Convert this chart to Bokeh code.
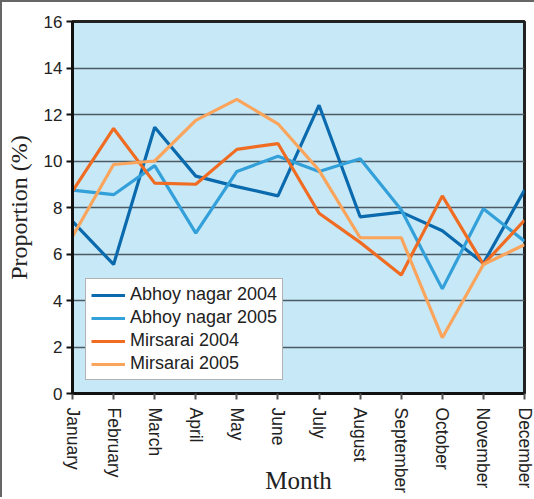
from bokeh.plotting import figure
from bokeh.models import Range1d, FixedTicker, Legend, LegendItem
from bokeh.embed import file_html
from bokeh.resources import INLINE

months = ["January", "February", "March", "April", "May", "June", "July",
          "August", "September", "October", "November", "December"]
abhoy_2004 = [7.4, 5.55, 11.45, 9.35, 8.9, 8.5, 12.4, 7.6, 7.8, 7.0, 5.6, 8.75]
abhoy_2005 = [8.75, 8.55, 9.8, 6.9, 9.55, 10.2, 9.55, 10.1, 7.9, 4.5, 7.95, 6.55]
mirsarai_2004 = [8.7, 11.4, 9.05, 9.0, 10.5, 10.75, 7.75, 6.5, 5.1, 8.5, 5.55, 7.45]
mirsarai_2005 = [6.75, 9.85, 10.0, 11.75, 12.65, 11.6, 9.6, 6.7, 6.7, 2.4, 5.55, 6.4]
y_ticks = [0, 2, 4, 6, 8, 10, 12, 14, 16]

series = [
    ("Abhoy nagar 2004", abhoy_2004, "#0a6aad"),
    ("Abhoy nagar 2005", abhoy_2005, "#33a0da"),
    ("Mirsarai 2004", mirsarai_2004, "#f06c22"),
    ("Mirsarai 2005", mirsarai_2005, "#fba45c"),
]

xs = list(range(len(months)))

p = figure(frame_width=452, frame_height=372, output_backend="svg",
           toolbar_location=None,
           x_range=Range1d(0, len(months) - 1), y_range=Range1d(0, 16),
           min_border_left=62, min_border_top=19, min_border_right=10,
           min_border_bottom=96)
p.styles = {"border-left": "2px solid #666", "border-top": "2px solid #666"}

p.background_fill_color = "#c6e8f7"
p.border_fill_color = "white"
p.outline_line_color = "#222222"
p.outline_line_width = 3

items = []
for name, vals, col in series:
    r = p.line(xs, vals, line_color=col, line_width=3.2)
    items.append(LegendItem(label=name, renderers=[r]))

legend = Legend(items=items, location=(13, 13), level="image")
legend.background_fill_color = "white"
legend.background_fill_alpha = 1
legend.border_line_color = "#666666"
legend.border_line_width = 1.5
legend.padding = 5
legend.spacing = 2
legend.label_height = 20
legend.glyph_height = 20
legend.glyph_width = 34
legend.label_standoff = 5
legend.label_text_font = "Liberation Sans"
legend.label_text_font_size = "18px"
legend.label_text_color = "#222222"
p.add_layout(legend, "center")

p.xgrid.grid_line_color = None
p.ygrid.grid_line_color = "#4d5a63"
p.ygrid.grid_line_width = 1.6
p.ygrid.ticker = FixedTicker(ticks=y_ticks)

p.yaxis.ticker = FixedTicker(ticks=y_ticks)
p.yaxis.axis_label = "Proportion (%)"
p.yaxis.axis_label_text_font = "Liberation Serif"
p.yaxis.axis_label_text_font_style = "normal"
p.yaxis.axis_label_text_font_size = "24px"
p.yaxis.axis_label_text_color = "#222222"
p.yaxis.axis_label_standoff = 9
p.yaxis.major_label_text_font = "Liberation Sans"
p.yaxis.major_label_text_font_size = "17px"
p.yaxis.major_label_text_color = "#222222"
p.yaxis.major_label_standoff = 4
p.yaxis.axis_line_color = "#111111"
p.yaxis.axis_line_width = 3
p.yaxis.major_tick_line_color = "#111111"
p.yaxis.major_tick_line_width = 2
p.yaxis.major_tick_out = 6
p.yaxis.major_tick_in = 0
p.yaxis.minor_tick_line_color = None

p.xaxis.ticker = FixedTicker(ticks=xs)
p.xaxis.major_label_overrides = {i: m for i, m in enumerate(months)}
p.xaxis.major_label_orientation = "vertical"
p.xaxis.major_label_text_font = "Liberation Sans"
p.xaxis.major_label_text_font_size = "17.5px"
p.xaxis.major_label_text_color = "#222222"
p.xaxis.major_label_standoff = 8
p.xaxis.axis_label = "Month"
p.xaxis.axis_label_text_font = "Liberation Serif"
p.xaxis.axis_label_text_font_style = "normal"
p.xaxis.axis_label_text_font_size = "25px"
p.xaxis.axis_label_text_color = "#222222"
p.xaxis.axis_label_standoff = -29
p.xaxis.axis_line_color = "#111111"
p.xaxis.axis_line_width = 3
p.xaxis.major_tick_line_color = "#555555"
p.xaxis.major_tick_line_width = 2
p.xaxis.major_tick_out = 6
p.xaxis.major_tick_in = 0
p.xaxis.minor_tick_line_color = None

open("out.html", "w").write(file_html(p, INLINE))
